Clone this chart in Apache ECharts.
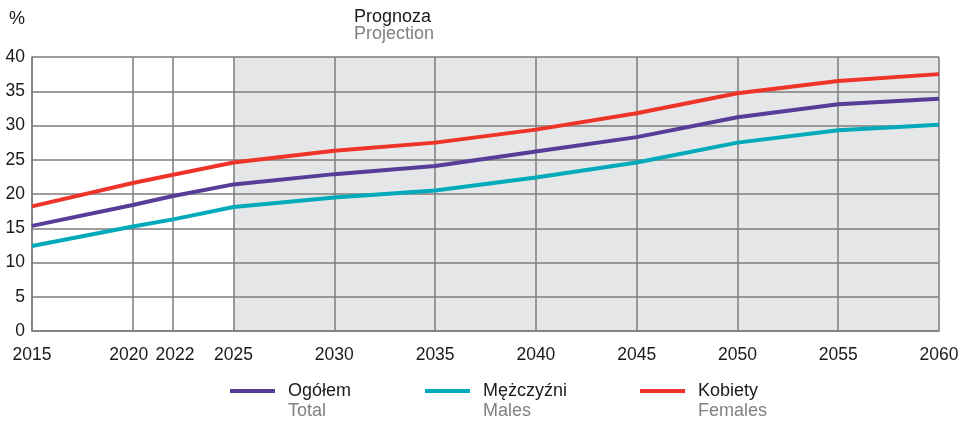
<!DOCTYPE html>
<html><head><meta charset="utf-8">
<script src="https://cdn.jsdelivr.net/npm/echarts@6/dist/echarts.min.js"></script>
<style>html,body{margin:0;padding:0;background:#fff}#c{width:971px;height:421px}</style>
</head><body><div id="c"></div>
<script>
const years = [2015, 2020, 2022, 2025, 2030, 2035, 2040, 2045, 2050, 2055, 2060];
const total = [15.35, 18.4, 19.7, 21.4, 22.9, 24.1, 26.2, 28.3, 31.2, 33.1, 33.9];
const males = [12.4, 15.25, 16.3, 18.1, 19.5, 20.5, 22.4, 24.6, 27.5, 29.3, 30.1];
const females = [18.2, 21.6, 22.8, 24.6, 26.3, 27.5, 29.4, 31.8, 34.7, 36.5, 37.5];
const yTicks = [0, 5, 10, 15, 20, 25, 30, 35, 40];
const projStart = 2025, projEnd = 2060;
const seriesNames = [['Ogółem', 'Total'], ['Mężczyźni', 'Males'], ['Kobiety', 'Females']];
const colors = ['#563d98', '#00aabb', '#ee3428'];

const font = 'Liberation Sans, Arial, sans-serif';
const chart = echarts.init(document.getElementById('c'));
const pair = arr => years.map((y, i) => [y, arr[i]]);
const gridCol = '#7d7d7d';

const txt = (x, y, text, fill, size) => ({ type: 'text', x: x, y: y, z: 10,
  style: { text: text, font: (size || 18) + 'px ' + font, fill: fill, verticalAlign: 'middle', align: 'left' } });

const legendGraphics = [];
const legX = [230, 425, 640];
seriesNames.forEach((n, i) => {
  legendGraphics.push({ type: 'rect', x: legX[i], y: 389, shape: { width: 45, height: 4 }, style: { fill: colors[i] } });
  legendGraphics.push(txt(legX[i] + 58, 391, n[0], '#1a1a1a'));
  legendGraphics.push(txt(legX[i] + 58, 411, n[1], '#808080'));
});

const lblStyle = { color: '#1a1a1a', fontSize: 17.5, fontFamily: font };

chart.setOption({
  animation: false,
  grid: { left: 32, right: 32, top: 57, bottom: 90, containLabel: false },
  xAxis: {
    type: 'value', min: 2015, max: 2060, z: 1,
    axisLine: { show: true, onZero: false, lineStyle: { color: gridCol, width: 1.5 } },
    axisTick: { show: false, customValues: years },
    axisLabel: {
      customValues: years, color: '#1a1a1a', fontSize: 17.5, fontFamily: font, margin: 15, hideOverlap: false,
      formatter: v => v === 2020 ? '{l|2020}' : v === 2022 ? '{r|2022}' : String(v),
      rich: {
        l: Object.assign({ padding: [0, 8, 0, 0] }, lblStyle),
        r: Object.assign({ padding: [0, 0, 0, 4] }, lblStyle)
      }
    },
    splitLine: { show: true, lineStyle: { color: gridCol, width: 1.5 } }
  },
  yAxis: {
    type: 'value', min: 0, max: 40, interval: 5, z: 1,
    axisLine: { show: true, lineStyle: { color: gridCol, width: 1.5 } },
    axisTick: { show: false },
    axisLabel: { color: '#1a1a1a', fontSize: 17.5, fontFamily: font, margin: 7 },
    splitLine: { show: true, lineStyle: { color: gridCol, width: 1.5 } }
  },
  series: [
    { name: seriesNames[0][0], type: 'line', data: pair(total), color: colors[0], symbol: 'none', lineStyle: { width: 4, color: colors[0] }, z: 3,
      markArea: { silent: true, z: -5, itemStyle: { color: '#e5e6e8' }, data: [[{ xAxis: projStart }, { xAxis: projEnd }]] } },
    { name: seriesNames[1][0], type: 'line', data: pair(males), color: colors[1], symbol: 'none', lineStyle: { width: 4, color: colors[1] }, z: 3 },
    { name: seriesNames[2][0], type: 'line', data: pair(females), color: colors[2], symbol: 'none', lineStyle: { width: 4, color: colors[2] }, z: 3 }
  ],
  graphic: [
    txt(9, 19, '%', '#1a1a1a'),
    txt(354, 17, 'Prognoza', '#1a1a1a'),
    txt(354, 34, 'Projection', '#808080'),
    ...legendGraphics
  ]
});
</script></body></html>
